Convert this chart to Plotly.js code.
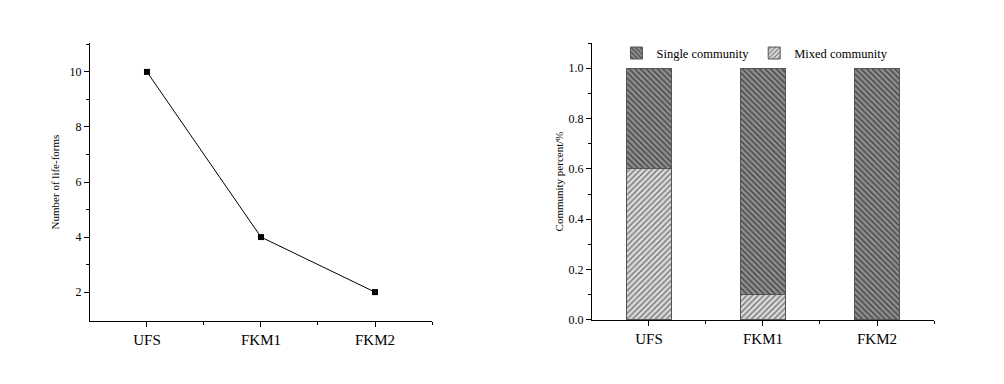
<!DOCTYPE html>
<html>
<head>
<meta charset="utf-8">
<script src="https://cdn.plot.ly/plotly-3.0.1.min.js"></script>
<style>html,body{margin:0;padding:0;background:#fff;}#chart{width:1004px;height:384px;}</style>
</head>
<body>
<div id="chart"></div>
<script>
const sites = ['UFS', 'FKM1', 'FKM2'];
const lifeForms = [10, 4, 2];
const singleCommunity = [0.4, 0.9, 1.0];
const mixedCommunity = [0.6, 0.1, 0.0];

const idx = sites.map((_, i) => i);
const font = '"Liberation Serif", "Times New Roman", serif';

const traces = [
  {
    x: idx, y: lifeForms, type: 'scatter', mode: 'lines+markers',
    xaxis: 'x', yaxis: 'y', showlegend: false,
    line: {color: '#000', width: 1},
    marker: {symbol: 'square', size: 6, color: '#000'}
  },
  {
    x: idx, y: mixedCommunity, type: 'bar', name: 'Mixed community',
    xaxis: 'x2', yaxis: 'y2', width: 0.4, legendrank: 2,
    marker: {color: '#dadada', line: {color: '#555', width: 1},
      pattern: {shape: '/', bgcolor: '#dadada', fgcolor: '#6b6b6b', size: 4, solidity: 0.3}}
  },
  {
    x: idx, y: singleCommunity, type: 'bar', name: 'Single community',
    xaxis: 'x2', yaxis: 'y2', width: 0.4, legendrank: 1,
    marker: {color: '#8e8e8e', line: {color: '#555', width: 1},
      pattern: {shape: '\\', bgcolor: '#8e8e8e', fgcolor: '#3c3c3c', size: 4, solidity: 0.3}}
  }
];

const xCommon = {
  tickvals: idx, ticktext: sites, range: [-0.5, 2.5],
  ticks: 'outside', ticklen: 5, tickcolor: '#000', showline: true, linecolor: '#000',
  linewidth: 1, showgrid: false, zeroline: false,
  tickfont: {family: font, size: 15, color: '#000'},
  minor: {tickvals: [0.5, 1.5, 2.5], ticks: 'outside', ticklen: 3, tickcolor: '#000'}
};

const layout = {
  width: 1004, height: 384,
  margin: {l: 0, r: 0, t: 0, b: 0},
  paper_bgcolor: '#fff', plot_bgcolor: '#fff',
  font: {family: font, color: '#000'},
  barmode: 'stack',
  xaxis: Object.assign({}, xCommon, {domain: [0.0896, 0.4303], anchor: 'y'}),
  yaxis: {
    domain: [0.164, 0.888], anchor: 'x', range: [0.95, 11.05],
    tickvals: [2, 4, 6, 8, 10], ticks: 'outside', ticklen: 5, tickcolor: '#000',
    showline: true, linecolor: '#000', showgrid: false, zeroline: false,
    tickfont: {family: font, size: 12, color: '#000'},
    minor: {tickvals: [3, 5, 7, 9, 11], ticks: 'outside', ticklen: 3, tickcolor: '#000'},
    title: {text: 'Number of life-forms', font: {family: font, size: 11, color: '#000'}, standoff: 7}
  },
  xaxis2: Object.assign({}, xCommon, {domain: [0.5896, 0.9303], anchor: 'y2'}),
  yaxis2: {
    domain: [0.1667, 0.888], anchor: 'x2', range: [0, 1.1],
    tickvals: [0, 0.2, 0.4, 0.6, 0.8, 1.0], tickformat: '.1f',
    ticks: 'outside', ticklen: 5, tickcolor: '#000',
    showline: true, linecolor: '#000', showgrid: false, zeroline: false,
    tickfont: {family: font, size: 12, color: '#000'},
    minor: {tickvals: [0.1, 0.3, 0.5, 0.7, 0.9, 1.1], ticks: 'outside', ticklen: 3, tickcolor: '#000'},
    title: {text: 'Community percent/%', font: {family: font, size: 11, color: '#000'}, standoff: 2}
  },
  legend: {
    orientation: 'h', x: 0.614, y: 0.9, xanchor: 'left', yanchor: 'top',
    bgcolor: 'rgba(0,0,0,0)', font: {family: font, size: 12.5, color: '#000'},
    traceorder: 'normal', itemwidth: 30
  }
};

Plotly.newPlot('chart', traces, layout, {displayModeBar: false, staticPlot: true});
</script>
</body>
</html>
